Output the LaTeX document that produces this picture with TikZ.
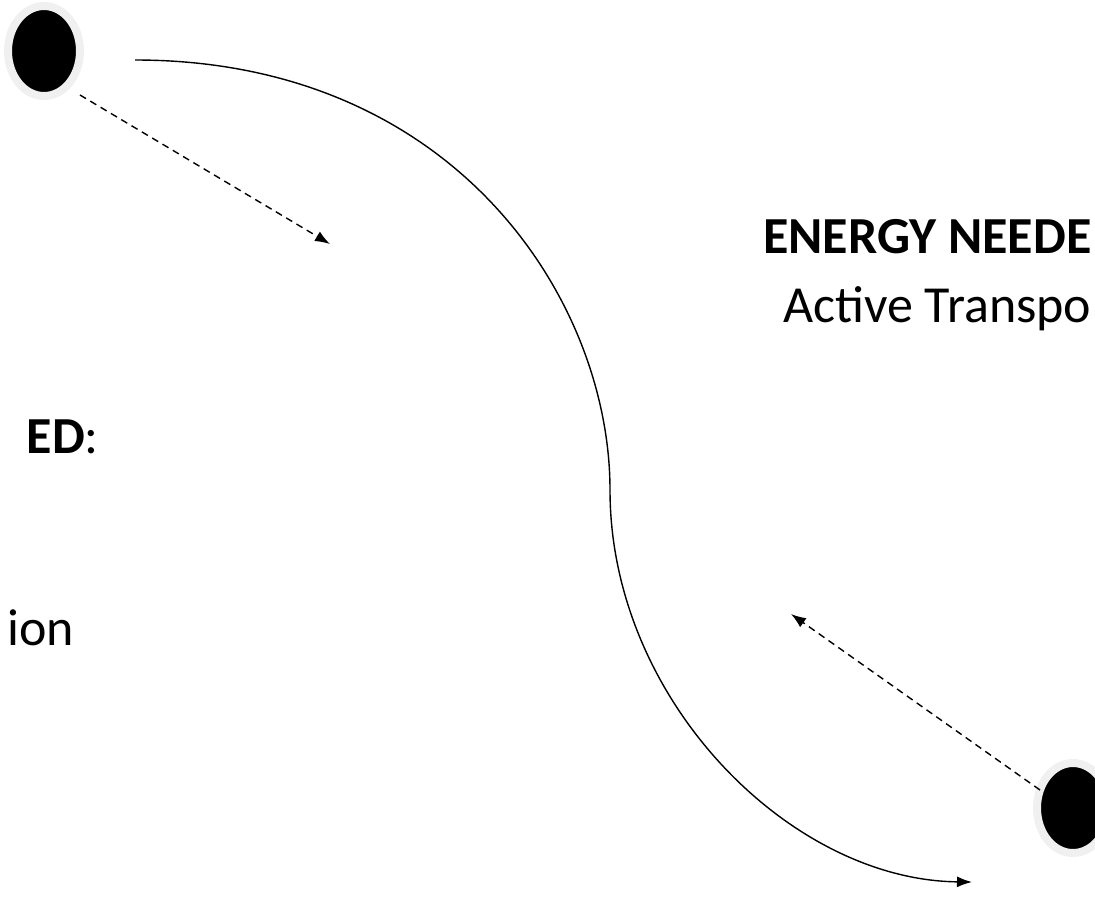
\documentclass[tikz,border=0pt]{standalone}
\usepackage{fontspec}
\setmainfont{Carlito}
\usetikzlibrary{positioning, shapes.geometric, arrows.meta}
\colorlet{glow_gray}{black!6}

\begin{document}
\begin{tikzpicture}[
                        x=1pt, y=-1pt,
                        particle/.style={ellipse, fill=black, draw=glow_gray, line width=8pt, minimum width=72pt, minimum height=90pt, inner sep=0pt},
                        membrane/.style={line width=1.4pt},
                        motion/.style={line width=1.4pt, dash pattern=on 7pt off 5pt},
                        label/.style={font=\fontsize{52}{60}\selectfont, inner sep=0pt},
                        >={Latex[length=15pt,width=11pt]},
                    ]
                        \useasboundingbox (0,0) rectangle (1095,922);

                        %particles
                        \node[particle] (top_particle) at (44,51) {};
                        \node[particle] (bottom_particle) at (1073,808) {};

                        % membrane curve
                        \coordinate (curve_start) at (135,60);
                        \coordinate (curve_mid) at (610,490);
                        \coordinate (curve_end) at (972,882);
                        \draw[membrane] (curve_start) .. controls (455,60) and (610,300) .. (curve_mid);
                        \draw[membrane, ->] (curve_mid) .. controls (610,700) and (790,880) .. (curve_end);

                        % movement
                        \coordinate (top_target) at (330,244);
                        \coordinate (bottom_target) at (791,614);
                        \coordinate (top_from) at (80,95);
                        \coordinate (bottom_from) at (1040,790);
                        \draw[motion, ->] (top_from) -- (top_target);
                        \draw[motion, ->] (bottom_from) -- (bottom_target);

                        % labels
                        \node[label, anchor=base west] (energy_label) at (763,253) {\textbf{ENERGY NEEDE}};
                        \node[label, anchor=base west] (active_label) at (783,322) {Active Transpo};
                        \node[label, anchor=base east] (no_energy_label) at (99,453) {\textbf{ED}:};
                        \node[label, anchor=base east] (passive_label) at (74,645) {ion};
                    \end{tikzpicture}
\end{document}
